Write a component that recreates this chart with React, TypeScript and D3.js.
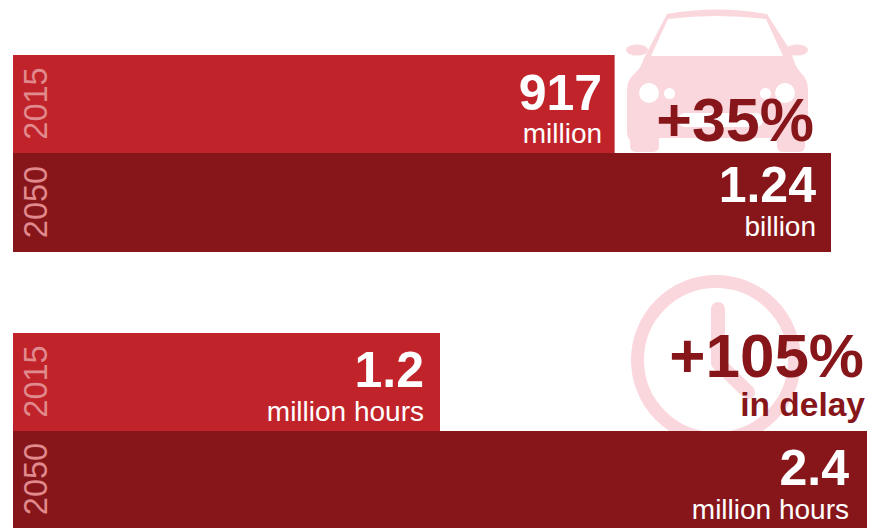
import React from "react";
import * as d3 from "d3";

const years = ["2015", "2050"];
const vehicleBarValues = [912, 1240]; // millions, as measured from bar lengths
const vehicleBig = ["917", "1.24"];
const vehicleSmall = ["million", "billion"];
const delayValues = [1.2, 2.4];
const delayBig = ["1.2", "2.4"];
const delaySmall = ["million hours", "million hours"];

const RED = "#C1232A";
const DARK = "#87161B";
const ICON = "#FAD7DC";
const FONT = "'Liberation Sans', Arial, sans-serif";
const colors = [RED, DARK];

function Panel({ values, big, small, xMax, x1, top, mid, bottom, pad, bigBase, smallBase }: any) {
  const x = d3.scaleLinear().domain([0, xMax]).range([13, x1]);
  const edges = [top, mid, bottom];
  return (
    <g>
      {years.map((yr, i) => {
        const by = edges[i];
        const bh = edges[i + 1] - edges[i];
        const xe = x(values[i]);
        return (
          <g key={yr}>
            <rect x={13} y={by} width={xe - 13} height={bh} fill={colors[i]} />
            <text
              transform={`translate(47,${by + bh / 2 - 0.5}) rotate(-90)`}
              textAnchor="middle"
              fontSize={32.5}
              fill="#E08A8E"
              fontFamily={FONT}
            >
              {yr}
            </text>
            <text x={xe - pad[i]} y={bigBase[i]} textAnchor="end" fontSize={50} fontWeight="bold" fill="#fff" fontFamily={FONT}>
              {big[i]}
            </text>
            <text x={xe - pad[i]} y={smallBase[i]} textAnchor="end" fontSize={28} fill="#fff" fontFamily={FONT}>
              {small[i]}
            </text>
          </g>
        );
      })}
    </g>
  );
}

function Car() {
  return (
    <g>
      <ellipse cx={637} cy={50} rx={11} ry={5.5} fill={ICON} />
      <ellipse cx={797} cy={50} rx={11} ry={5.5} fill={ICON} />
      <path
        fill={ICON}
        fillRule="evenodd"
        d="M667,14 Q716,5 767,14 L790,50 L793,58 Q796,68 802,74 Q808,80 808,90 L808,134 Q808,138 805,140 L805,146 Q805,152 798,152 L784,152 Q777,152 777,146 L777,138 L659,138 L659,146 Q659,152 652,152 L637,152 Q630,152 630,146 L630,140 Q627,137 627,132 L627,90 Q627,80 635,73 Q641,68 644,58 Z M668,19 Q716,13 766,19 L783,56 L651,56 Z"
      />
      <circle cx={649} cy={93} r={10} fill="#fff" />
      <circle cx={669.5} cy={93.5} r={5.5} fill="#fff" />
      <circle cx={765.5} cy={93.5} r={5.5} fill="#fff" />
      <circle cx={785} cy={93} r={10} fill="#fff" />
      <rect x={678} y={113} width={85} height={14} rx={7} fill="#fff" />
    </g>
  );
}

function Clock() {
  return (
    <g fill="none" stroke={ICON}>
      <circle cx={716} cy={360} r={78.5} strokeWidth={13} />
      <path d="M718,309 L718,363 L748,392" strokeWidth={14} strokeLinecap="round" strokeLinejoin="round" />
    </g>
  );
}

export default function App() {
  return (
    <svg width={873} height={528} style={{ position: "absolute", left: 0, top: 0 }}>
      <rect width={873} height={528} fill="#fff" />
      <Car />
      <Clock />
      <Panel
        values={vehicleBarValues} big={vehicleBig} small={vehicleSmall} xMax={1240} x1={831}
        top={55} mid={153} bottom={252} pad={[12.5, 15]} bigBase={[110, 202]} smallBase={[143, 236]}
      />
      <Panel
        values={delayValues} big={delayBig} small={delaySmall} xMax={2.4} x1={867}
        top={333} mid={431} bottom={528} pad={[16, 18]} bigBase={[387, 485]} smallBase={[420.5, 519]}
      />
      <text x={814} y={141} textAnchor="end" fontSize={61} fontWeight="bold" fill={DARK} fontFamily={FONT}>+35%</text>
      <text x={864} y={377} textAnchor="end" fontSize={62} fontWeight="bold" fill={DARK} fontFamily={FONT}>+105%</text>
      <text x={865} y={415.5} textAnchor="end" fontSize={33.5} fontWeight="bold" fill={DARK} fontFamily={FONT}>in delay</text>
    </svg>
  );
}
